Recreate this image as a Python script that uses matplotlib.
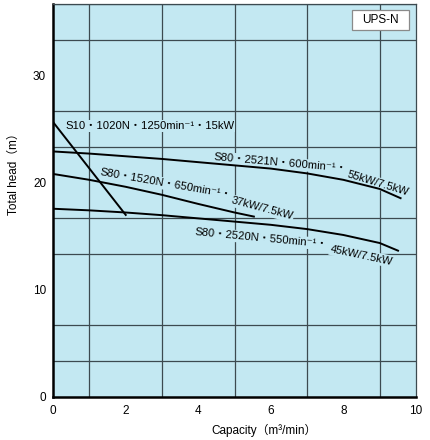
import matplotlib
matplotlib.use("Agg")
import matplotlib.pyplot as plt
from matplotlib.ticker import FixedLocator, NullFormatter
from matplotlib.patches import Rectangle


FONTS = ["Liberation Sans", "Noto Sans CJK JP", "DejaVu Sans"]
BG = "#c3e8f2"
GRID = "#3c4a50"

# performance curves: capacity (m3/min) -> total head (m)
s10_q = [0.0, 2.02]
s10_h = [25.65, 16.9]

s2521_q = [0.0, 1, 2, 3, 4, 5, 6, 7, 8, 9, 9.6]
s2521_h = [22.9, 22.7, 22.45, 22.2, 21.9, 21.6, 21.3, 20.85, 20.25, 19.4, 18.5]

s1520_q = [0.0, 1, 2, 3, 4, 5, 5.56]
s1520_h = [20.8, 20.25, 19.6, 18.85, 18.0, 17.2, 16.8]

s2520_q = [0.0, 1, 2, 3, 4, 5, 6, 7, 8, 9, 9.53]
s2520_h = [17.55, 17.4, 17.2, 16.95, 16.65, 16.35, 16.05, 15.65, 15.1, 14.35, 13.6]

x_ticks = [0, 2, 4, 6, 8, 10]
y_ticks = [0, 10, 20, 30]
x_grid = list(range(0, 11))
y_grid = [i * 10 / 3 for i in range(12)]

# curve labels: (text, capacity, head, rotation)
# the long labels bend with their curve, so they are split in two parts
labels = [
    ("S10・1020N・1250min⁻¹・15kW", 0.33, 25.0, 0),
    ("S80・2521N・600min⁻¹・", 4.42, 22.08, -5),
    ("55kW/7.5kW", 8.09, 20.52, -17),
    ("S80・1520N・650min⁻¹・", 1.29, 20.68, -10),
    ("37kW/7.5kW", 4.88, 18.07, -15),
    ("S80・2520N・550min⁻¹・", 3.91, 15.08, -5.4),
    ("45kW/7.5kW", 7.63, 13.53, -12),
]


def setup_axes(fig):
    ax = fig.add_axes([0.1233, 0.0984, 0.8441, 0.8925])
    ax.set_facecolor(BG)
    ax.set_xlim(0, 10)
    ax.set_ylim(0, 110 / 3)
    ax.xaxis.set_major_locator(FixedLocator(x_ticks))
    ax.yaxis.set_major_locator(FixedLocator(y_ticks))
    ax.xaxis.set_minor_locator(FixedLocator(x_grid))
    ax.yaxis.set_minor_locator(FixedLocator(y_grid))
    ax.xaxis.set_minor_formatter(NullFormatter())
    ax.yaxis.set_minor_formatter(NullFormatter())
    ax.grid(True, which="minor", color=GRID, linewidth=0.9)
    ax.grid(False, which="major")
    ax.set_axisbelow(True)
    ax.tick_params(which="both", length=0, labelsize=8.5)
    ax.tick_params(axis="x", pad=6)
    ax.tick_params(axis="y", pad=5)
    for lab in ax.get_xticklabels() + ax.get_yticklabels():
        lab.set_family(FONTS)
    for side in ["left", "bottom"]:
        ax.spines[side].set_linewidth(1.8)
        ax.spines[side].set_color("black")
    for side in ["top", "right"]:
        ax.spines[side].set_linewidth(0.9)
        ax.spines[side].set_color(GRID)
    return ax


def draw_curves(ax):
    for q, h in [(s10_q, s10_h), (s2521_q, s2521_h),
                 (s1520_q, s1520_h), (s2520_q, s2520_h)]:
        ax.plot(q, h, color="black", linewidth=1.4, zorder=5,
                solid_capstyle="butt")


def draw_labels(ax):
    for text, q, h, rot in labels:
        ax.text(q, h, text, rotation=rot, rotation_mode="anchor",
                ha="left", va="baseline", fontsize=8.1, family=FONTS,
                zorder=4,
                bbox=dict(boxstyle="square,pad=0.1", facecolor=BG,
                          edgecolor="none"))


def draw_model_box(ax):
    ax.add_patch(Rectangle((0.823, 0.934), 0.1587, 0.0509,
                           transform=ax.transAxes, facecolor="white",
                           edgecolor="#8a8a8a", linewidth=0.9, zorder=6))
    ax.text(0.902, 0.959, "UPS-N", transform=ax.transAxes, ha="center",
            va="center", fontsize=8.5, family=FONTS, zorder=7)


def main():
    fig = plt.figure(figsize=(4.3, 4.4), dpi=100)
    ax = setup_axes(fig)
    draw_curves(ax)
    draw_labels(ax)
    draw_model_box(ax)

    ax.set_xlabel("Capacity（m³/min）", fontsize=8.5, family=FONTS)
    ax.set_ylabel("Total head（m）", fontsize=8.5, family=FONTS)
    ax.xaxis.set_label_coords(0.581, -0.07)
    ax.yaxis.set_label_coords(-0.09, 0.575)

    fig.savefig("out.png", dpi=100)


if __name__ == "__main__":
    main()
